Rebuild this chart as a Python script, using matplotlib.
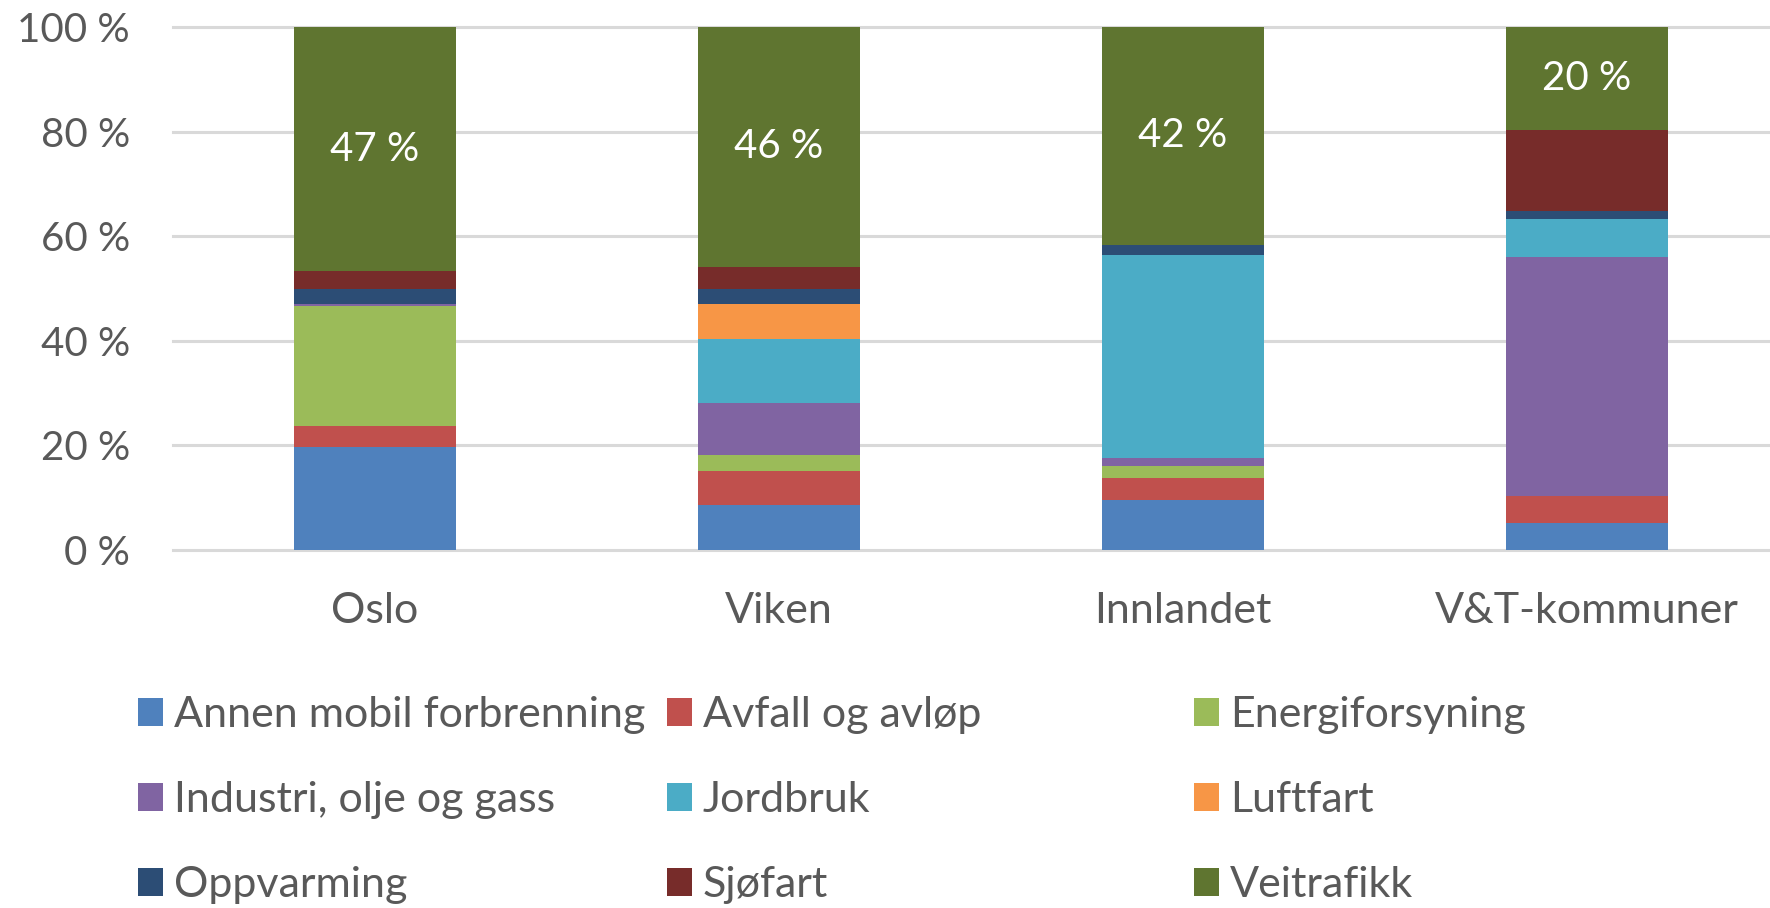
import matplotlib
matplotlib.use("Agg")
import matplotlib.pyplot as plt
import numpy as np

plt.rcParams['font.family'] = ['Lato', 'DejaVu Sans']

# ---- data (percent shares) ----
regions = ["Oslo", "Viken", "Innlandet", "V&T-kommuner"]
sectors = ["Annen mobil forbrenning", "Avfall og avløp", "Energiforsyning",
           "Industri, olje og gass", "Jordbruk", "Luftfart",
           "Oppvarming", "Sjøfart", "Veitrafikk"]
annen_mobil = [19.6, 8.6, 9.5, 5.1]
avfall = [4.1, 6.6, 4.3, 5.3]
energi = [22.9, 2.9, 2.3, 0.0]
industri = [0.4, 10.0, 1.4, 45.7]
jordbruk = [0.0, 12.3, 39.0, 7.2]
luftfart = [0.0, 6.6, 0.0, 0.0]
oppvarming = [3.0, 2.9, 1.9, 1.5]
sjofart = [3.3, 4.3, 0.0, 15.6]
veitrafikk = [46.7, 45.8, 41.6, 19.6]
series = [annen_mobil, avfall, energi, industri, jordbruk, luftfart,
          oppvarming, sjofart, veitrafikk]
yticks = [0, 20, 40, 60, 80, 100]
ytick_labels = ["0 %", "20 %", "40 %", "60 %", "80 %", "100 %"]

colors = ["#4F81BD", "#C0504D", "#9BBB59", "#8064A2", "#4BACC6",
          "#F79646", "#2C4D75", "#772C2A", "#5F7530"]

W, H = 1770, 908
fig = plt.figure(figsize=(W / 100, H / 100), dpi=100)
fig.patch.set_facecolor("white")
ax = fig.add_axes([173 / W, (H - 550) / H, (W - 173) / W, 523 / H])

x = np.arange(len(regions))
bottom = np.zeros(len(regions))
containers = []
for name, vals, col in zip(sectors, series, colors):
    v = np.array(vals, dtype=float)
    bc = ax.bar(x, v, bottom=bottom, width=0.4, color=col, label=name,
                linewidth=0, zorder=2)
    containers.append(bc)
    bottom = bottom + v

# data labels on Veitrafikk
ax.bar_label(containers[-1], labels=[f"{v:.0f} %" for v in veitrafikk],
             label_type="center", color="white", fontsize=29, zorder=3)

ax.set_xlim(-0.5, -0.5 + (W - 173) / 404)
ax.set_ylim(0, 100)
for t in yticks:
    ax.axhline(t, color="#D9D9D9", lw=2.2, zorder=0, clip_on=False)
for s in ax.spines.values():
    s.set_visible(False)
ax.set_yticks(yticks)
ax.set_yticklabels(ytick_labels)
ax.set_xticks(x)
ax.set_xticklabels(regions)
ax.tick_params(axis="y", length=0, pad=31, labelsize=29, labelcolor="#595959")
ax.tick_params(axis="x", length=0, pad=30, labelsize=31, labelcolor="#595959")

# legend: three columns, row-wise order
fs = 31
fs_px = fs * 100 / 72
col_x = [138, 667, 1194]
for c in range(3):
    idx = [c, c + 3, c + 6]
    leg = fig.legend([containers[i] for i in idx], [sectors[i] for i in idx],
                     loc="center left", bbox_to_anchor=(col_x[c] / W, (H - 800) / H),
                     frameon=False, fontsize=fs, borderpad=0, borderaxespad=0,
                     handlelength=25 / fs_px, handleheight=27 / fs_px,
                     handletextpad=0.25, labelspacing=1.09, labelcolor="#595959")

fig.savefig("out.png", dpi=100, facecolor="white")
